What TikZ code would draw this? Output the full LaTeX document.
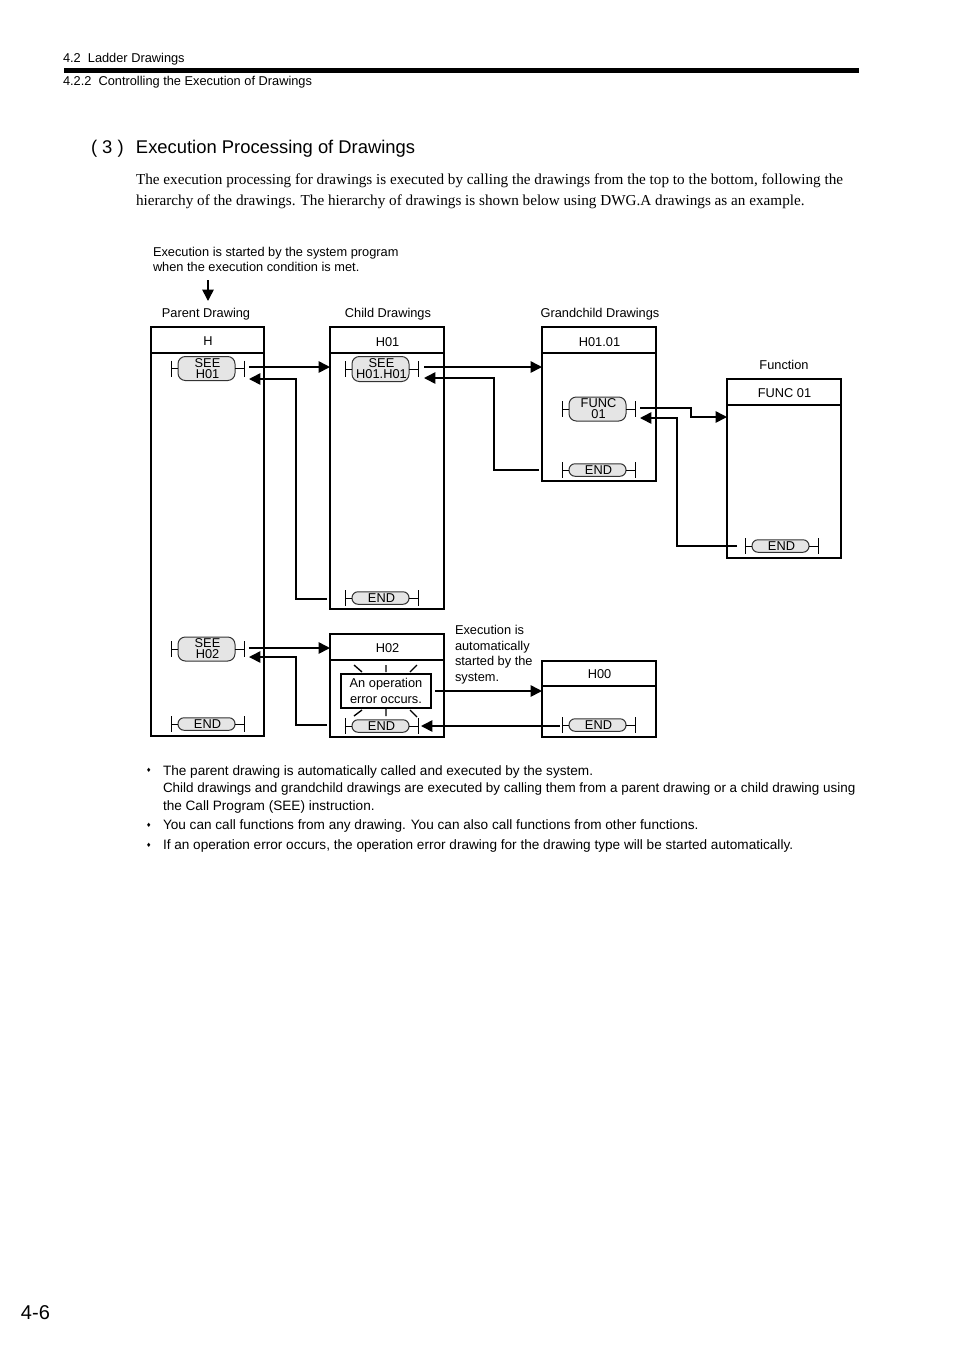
\documentclass[tikz,border=0pt]{standalone}
\usepackage{fontspec}
\setmainfont{Liberation Sans}
\newfontfamily\serifface{Liberation Serif}
\newfontfamily\symface{DejaVu Sans}
\usetikzlibrary{arrows.meta,calc}
\newcommand{\szA}{\fontsize{9.6pt}{11.6pt}\selectfont}
\tikzset{
  x=0.75pt,y=-0.75pt,
  box/.style={draw=black,line width=1.5pt,inner sep=0,outer sep=0,fill=white},
  rule/.style={line width=1.5pt,black},
  pill/.style={draw=black!80,line width=0.75pt,fill=black!10,rounded corners=5.5pt,inner sep=0,outer sep=0},
  endpill/.style={pill,rounded corners=4.5pt},
  pilltext/.style={inner sep=0,outer sep=0,align=center,font=\fontsize{9.6pt}{8.3pt}\selectfont},
  tick/.style={line width=0.75pt,black},
  conn/.style={line width=1.2pt,black},
  arr/.style={conn,-{Triangle[length=8.5pt,width=8.5pt]}},
  lbl/.style={inner sep=0,outer sep=0,font=\szA},
  txt/.style={inner sep=0,outer sep=0,anchor=base west,align=left},
  body/.style={txt,font=\fontsize{10.2pt}{12.9pt}\selectfont},
}
% \dwg{name}{x0}{y0}{x1}{y1}{yheader}{title}{title y}
\newcommand{\dwg}[8]{%
  \node[box,minimum width={(#4-#2)*0.75pt},minimum height={(#5-#3)*0.75pt}] (#1) at ({(#2+#4)/2},{(#3+#5)/2}) {};
  \draw[rule] (#2,#6) -- (#4,#6);
  \node[lbl] (#1t) at ({(#2+#4)/2+0.5},#8) {#7};
}
% \rung{x0}{x1}{cy}{h}{name}{text}{style}{tick half-height}
\newcommand{\rung}[8]{%
  \node[#7,minimum width={(#2-#1)*0.75pt},minimum height={#4*0.75pt}] (#5) at ({(#1+#2)/2},#3) {};
  \node[pilltext] (#5t) at ($(#5.center)+(1,0)$) {#6};
  \draw[tick] ($(#5.west)+(-7,0)$) -- (#5.west) ($(#5.east)+(9,0)$) -- (#5.east)
    ($(#5.west)+(-7,-#8)$) -- ($(#5.west)+(-7,#8)$)
    ($(#5.east)+(9,-#8)$) -- ($(#5.east)+(9,#8)$);
}
\begin{document}
\begin{tikzpicture}
\useasboundingbox[fill=white] (0,0) rectangle (954,1350);
% page header
\node[txt,font=\fontsize{9.6pt}{11pt}\selectfont] (h1) at (63,62) {4.2\ \ Ladder Drawings};
\node[txt,font=\fontsize{9.6pt}{11pt}\selectfont] (h2) at (63,85) {4.2.2\ \ Controlling the Execution of Drawings};
\fill[black] (64,68) rectangle (859,73);
\node[txt,font=\fontsize{13.8pt}{16pt}\selectfont] (title) at (91,153) {\makebox[33.75pt][l]{( 3 )}Execution Processing of Drawings};
\node[txt,font=\serifface\fontsize{11.4pt}{15.75pt}\selectfont] (para) at (136,205) {The execution processing for drawings is executed by calling the drawings from the top to the bottom, following the\\hierarchy of the drawings. The hierarchy of drawings is shown below using DWG.A drawings as an example.};
% diagram top labels
\node[txt,font=\fontsize{9.6pt}{11.25pt}\selectfont] (start) at (153,271) {Execution is started by the system program\\when the execution condition is met.};
\coordinate (startA) at (208,280);
\coordinate (startB) at (208,301);
\draw[arr] (startA) -- (startB);
\node[lbl] (lp) at (206,314) {Parent Drawing};
\node[lbl] (lc) at (388,314) {Child Drawings};
\node[lbl] (lg) at (600,314) {Grandchild Drawings};
\node[lbl] (lf) at (784,365) {Function};
% drawings
\dwg{H}{151}{327}{264}{736}{353}{H}{341}
\dwg{Ha}{330}{327}{444}{609}{353}{H01}{342}
\dwg{Hb}{542}{327}{656}{481}{353}{H01.01}{342}
\dwg{F}{727}{379}{841}{558}{405}{FUNC 01}{393}
\dwg{Hc}{330}{634}{444}{737}{660}{H02}{648}
\dwg{Hd}{542}{661}{656}{737}{686}{H00}{674}
% rungs
\rung{178}{235}{368.5}{24}{seeA}{SEE\\H01}{pill}{8}
\rung{178}{235}{649}{24}{seeB}{SEE\\H02}{pill}{8}
\rung{178}{235}{724}{12.5}{endH}{END}{endpill}{8}
\rung{352}{409}{369}{25}{seeC}{SEE\\H01.H01}{pill}{8}
\rung{352}{409}{598}{12.5}{endHa}{END}{endpill}{8}
\rung{352}{409}{726}{12.5}{endHc}{END}{endpill}{8}
\rung{569}{626}{409}{24}{seeD}{FUNC\\01}{pill}{8}
\rung{569}{626}{470}{12.5}{endHb}{END}{endpill}{8}
\rung{752}{809}{546}{12.5}{endF}{END}{endpill}{8}
\rung{569}{626}{725}{12.5}{endHd}{END}{endpill}{8}
% error box
\node[draw=black,line width=1.3pt,fill=white,inner sep=0,outer sep=0,align=center,minimum width=67.5pt,minimum height=25.5pt,font=\fontsize{9.6pt}{11.6pt}\selectfont] (err) at (386,691) {An operation\\error occurs.};
\draw[line width=1pt] (354,665) -- (362,672) (386,665) -- (386,672) (417,665) -- (410,672)
  (362,710) -- (354,716) (386,709) -- (386,716) (410,710) -- (417,717);
% connector end points
\coordinate (a1) at (249,367);
\coordinate (r1a) at (327,599);
\coordinate (r1c) at (296,379);
\coordinate (r1d) at (249,379);
\coordinate (a2) at (424,367);
\coordinate (r2a) at (539,470);
\coordinate (r2c) at (494,378);
\coordinate (r2d) at (424,378);
\coordinate (a3) at (640,408);
\coordinate (a3b) at (691,408);
\coordinate (a3c) at (691,417);
\coordinate (r3a) at (737,546);
\coordinate (r3c) at (677,418);
\coordinate (r3d) at (640,418);
\coordinate (a4) at (249,648);
\coordinate (r4a) at (327,725);
\coordinate (r4c) at (296,657);
\coordinate (r4d) at (249,657);
\coordinate (a5) at (435,691);
\coordinate (r5a) at (560,726);
\coordinate (r5d) at (421,726);
% connectors
\draw[arr] (a1) -- (a1 -| Ha.west);
\draw[arr] (r1a) -| (r1c) -- (r1d);
\draw[arr] (a2) -- (a2 -| Hb.west);
\draw[arr] (r2a) -| (r2c) -- (r2d);
\draw[arr] (a3) -- (a3b) -- (a3c) -- (a3c -| F.west);
\draw[arr] (r3a) -| (r3c) -- (r3d);
\draw[arr] (a4) -- (a4 -| Hc.west);
\draw[arr] (r4a) -| (r4c) -- (r4d);
\draw[arr] (a5) -- (a5 -| Hd.west);
\draw[arr] (r5a) -- (r5d);
\node[txt,font=\fontsize{9.6pt}{11.6pt}\selectfont] (auto) at (455,681) {Execution is\\automatically\\started by the\\system.};
% bullets
\node[txt,font=\symface\fontsize{4.5pt}{5pt}\selectfont] (b1) at (146,772) {♦};
\node[txt,font=\symface\fontsize{4.5pt}{5pt}\selectfont] (b2) at (146,827) {♦};
\node[txt,font=\symface\fontsize{4.5pt}{5pt}\selectfont] (b3) at (146,847) {♦};
\node[body] (t1a) at (163,775) {The parent drawing is automatically called and executed by the system.};
\node[body,font=\fontsize{10.09pt}{12.9pt}\selectfont] (t1b) at (163,792) {Child drawings and grandchild drawings are executed by calling them from a parent drawing or a child drawing using};
\node[body] (t1c) at (163,810) {the Call Program (SEE) instruction.};
\node[body] (t2) at (163,829) {You can call functions from any drawing. You can also call functions from other functions.};
\node[body] (t3) at (163,849) {If an operation error occurs, the operation error drawing for the drawing type will be started automatically.};
% page number
\node[txt,font=\fontsize{15pt}{18pt}\selectfont] (pg) at (21,1319) {4-6};
\end{tikzpicture}
\end{document}
